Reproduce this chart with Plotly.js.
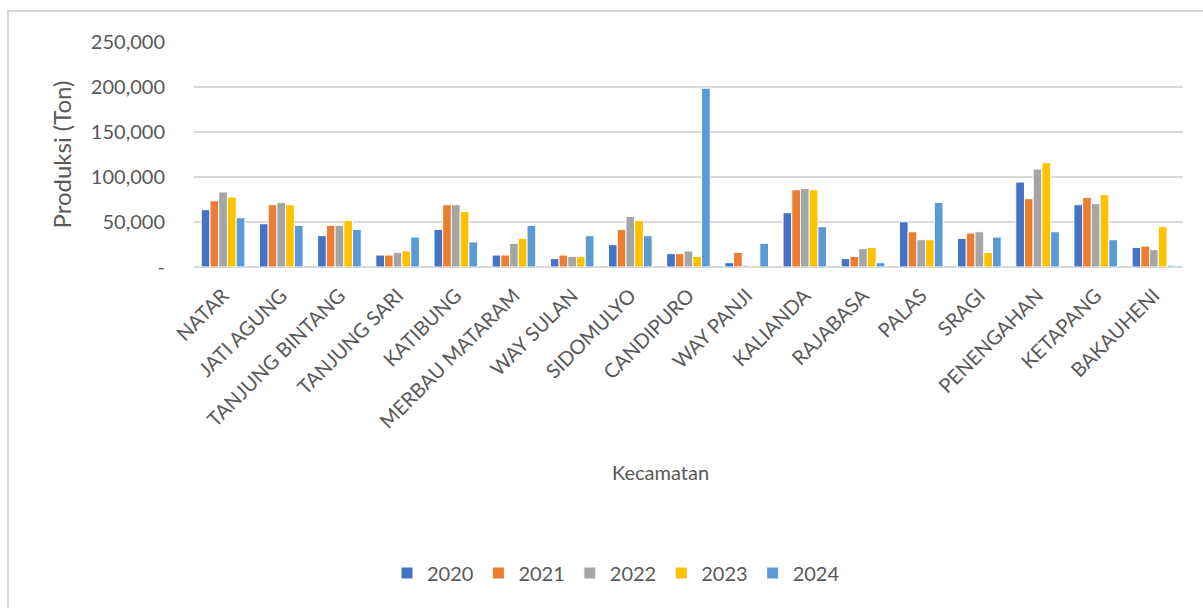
<!DOCTYPE html>
<html>
<head>
<meta charset="utf-8">
<script src="https://cdn.plot.ly/plotly-3.0.1.min.js"></script>
<style>
  html, body { margin: 0; padding: 0; background: #fff; }
  #chart { width: 1203px; height: 608px; }
  #frame { position: absolute; left: 7px; top: 10px; width: 1400px; height: 800px;
           border: 2px solid #d9d9d9; pointer-events: none; }
</style>
</head>
<body>
<div id="chart"></div>
<div id="frame"></div>
<script>
const kecamatan = ["NATAR", "JATI AGUNG", "TANJUNG BINTANG", "TANJUNG SARI", "KATIBUNG",
  "MERBAU MATARAM", "WAY SULAN", "SIDOMULYO", "CANDIPURO", "WAY PANJI", "KALIANDA",
  "RAJABASA", "PALAS", "SRAGI", "PENENGAHAN", "KETAPANG", "BAKAUHENI"];

const tahun = ["2020", "2021", "2022", "2023", "2024"];

const y2020 = [63700, 48100, 34800, 13300, 41800, 13300, 9300, 24800, 14800, 4800, 60300, 9300, 50300, 31800, 94400, 69200, 21800];
const y2021 = [73600, 69200, 46300, 13300, 69200, 13300, 13300, 41800, 14800, 16300, 85800, 11800, 39200, 37700, 75900, 77300, 23300];
const y2022 = [83300, 71800, 46300, 16300, 69200, 26300, 11800, 56200, 17800, 1900, 87300, 20400, 30300, 39200, 108800, 70300, 19200];
const y2023 = [77700, 69200, 51800, 17800, 61800, 31800, 11800, 51800, 11800, 1900, 85800, 21800, 30300, 16300, 115800, 80300, 44800];
const y2024 = [54800, 46300, 41800, 33300, 27800, 46300, 34800, 34800, 198700, 26300, 44800, 4800, 71800, 33300, 39200, 30300, 1900];

const seriesValues = [y2020, y2021, y2022, y2023, y2024];
const colors = ["#4472C4", "#ED7D31", "#A5A5A5", "#FFC000", "#5B9BD5"];

const tickVals = [0, 50000, 100000, 150000, 200000, 250000];
const tickText = ["-", "50,000", "100,000", "150,000", "200,000", "250,000"];

const FONT = "Lato, 'Open Sans', sans-serif";
const TXT = "#595959";

const traces = tahun.map((t, i) => ({
  type: "bar",
  name: t,
  x: kecamatan,
  y: seriesValues[i],
  marker: { color: colors[i], line: { color: "#ffffff", width: 1 } },
  hoverinfo: "x+y+name"
}));

const layout = {
  width: 1203,
  height: 608,
  margin: { l: 194, r: 20, t: 42, b: 341 },
  paper_bgcolor: "#ffffff",
  plot_bgcolor: "#ffffff",
  font: { family: FONT, color: TXT, size: 20 },
  barmode: "group",
  bargap: 0.25,
  bargroupgap: 0,
  showlegend: true,
  legend: {
    orientation: "h",
    x: 0.4267, xanchor: "center",
    y: -1.36, yanchor: "middle",
    font: { family: FONT, color: TXT, size: 20 },
    itemwidth: 30,
    traceorder: "normal"
  },
  xaxis: {
    type: "category",
    tickangle: -45,
    tickfont: { family: FONT, color: TXT, size: 20 },
    showgrid: false,
    showline: false,
    ticks: "",
    ticklabelstandoff: 12,
    automargin: false
  },
  yaxis: {
    range: [0, 250000],
    tickvals: tickVals,
    ticktext: tickText,
    tickfont: { family: FONT, color: TXT, size: 20 },
    showgrid: true,
    gridcolor: "#d9d9d9",
    gridwidth: 2,
    zeroline: true,
    zerolinecolor: "#d9d9d9",
    zerolinewidth: 2,
    showline: false,
    ticks: "",
    ticklabelstandoff: 28,
    automargin: false,
    title: { text: "Produksi (Ton)", font: { family: FONT, color: TXT, size: 24 }, standoff: 12 }
  },
  annotations: [{
    text: "Kecamatan",
    xref: "paper", yref: "paper",
    x: 0.472, y: -0.911,
    xanchor: "center", yanchor: "middle",
    showarrow: false,
    font: { family: FONT, color: TXT, size: 20 }
  }]
};

Plotly.newPlot("chart", traces, layout, { displayModeBar: false, staticPlot: true });
</script>
</body>
</html>
